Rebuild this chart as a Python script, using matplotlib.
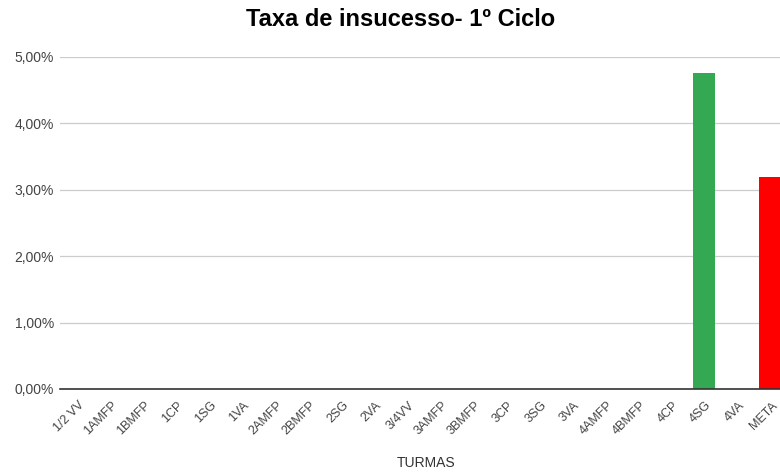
import matplotlib
matplotlib.use("Agg")
import matplotlib.pyplot as plt
from matplotlib.ticker import FuncFormatter
from matplotlib.transforms import ScaledTranslation

categories = ["1/2 VV", "1AMFP", "1BMFP", "1CP", "1SG", "1VA", "2AMFP", "2BMFP",
              "2SG", "2VA", "3/4VV", "3AMFP", "3BMFP", "3CP", "3SG", "3VA",
              "4AMFP", "4BMFP", "4CP", "4SG", "4VA", "META"]
values = [0, 0, 0, 0, 0, 0, 0, 0, 0, 0, 0, 0, 0, 0, 0, 0, 0, 0, 0, 4.76, 0, 3.19]
colors = ["#34a853"] * 21 + ["#ff0000"]

plt.rcParams['font.family'] = ['Liberation Sans', 'DejaVu Sans']

fig = plt.figure(figsize=(7.8, 4.75), dpi=100)
W, H = 780, 475
left, right, top, bottom = 60.0, 786.5, 57, 389
ax = fig.add_axes([left / W, 1 - bottom / H, (right - left) / W, (bottom - top) / H])

x = list(range(len(categories)))
ax.bar(x, values, width=0.655, color=colors, zorder=3)
ax.set_xlim(-0.5, len(categories) - 0.5)
ax.set_ylim(0, 5)
ax.set_yticks([0, 1, 2, 3, 4, 5])
ax.yaxis.set_major_formatter(FuncFormatter(lambda v, p: f"{v:.2f}%".replace(".", ",")))
ax.grid(axis='y', color='#cccccc', linewidth=0.9, zorder=0)
for s in ['top', 'right', 'left']:
    ax.spines[s].set_visible(False)
ax.spines['bottom'].set_color('#333333')
ax.spines['bottom'].set_linewidth(1.2)
ax.spines['bottom'].set_zorder(4)
ax.tick_params(axis='both', length=0, colors='#444444')
ax.tick_params(axis='y', pad=4.5, labelsize=10)
ax.tick_params(axis='x', pad=7.5, labelsize=9)
ax.set_xticks(x)
ax.set_xticklabels(categories, rotation=45, ha='right', rotation_mode='anchor')
for lbl in ax.get_xticklabels():
    lbl.set_transform(lbl.get_transform() + ScaledTranslation(1.5/100, 0, fig.dpi_scale_trans))

fig.text(401 / W, 1 - 19 / H, "Taxa de insucesso- 1º Ciclo", ha='center', va='center',
         fontsize=17, fontweight='bold', color='#000000')
fig.text(426 / W, 1 - 463 / H, "TURMAS", ha='center', va='center', fontsize=10, color='#333333')

fig.savefig("out.png", dpi=100)
